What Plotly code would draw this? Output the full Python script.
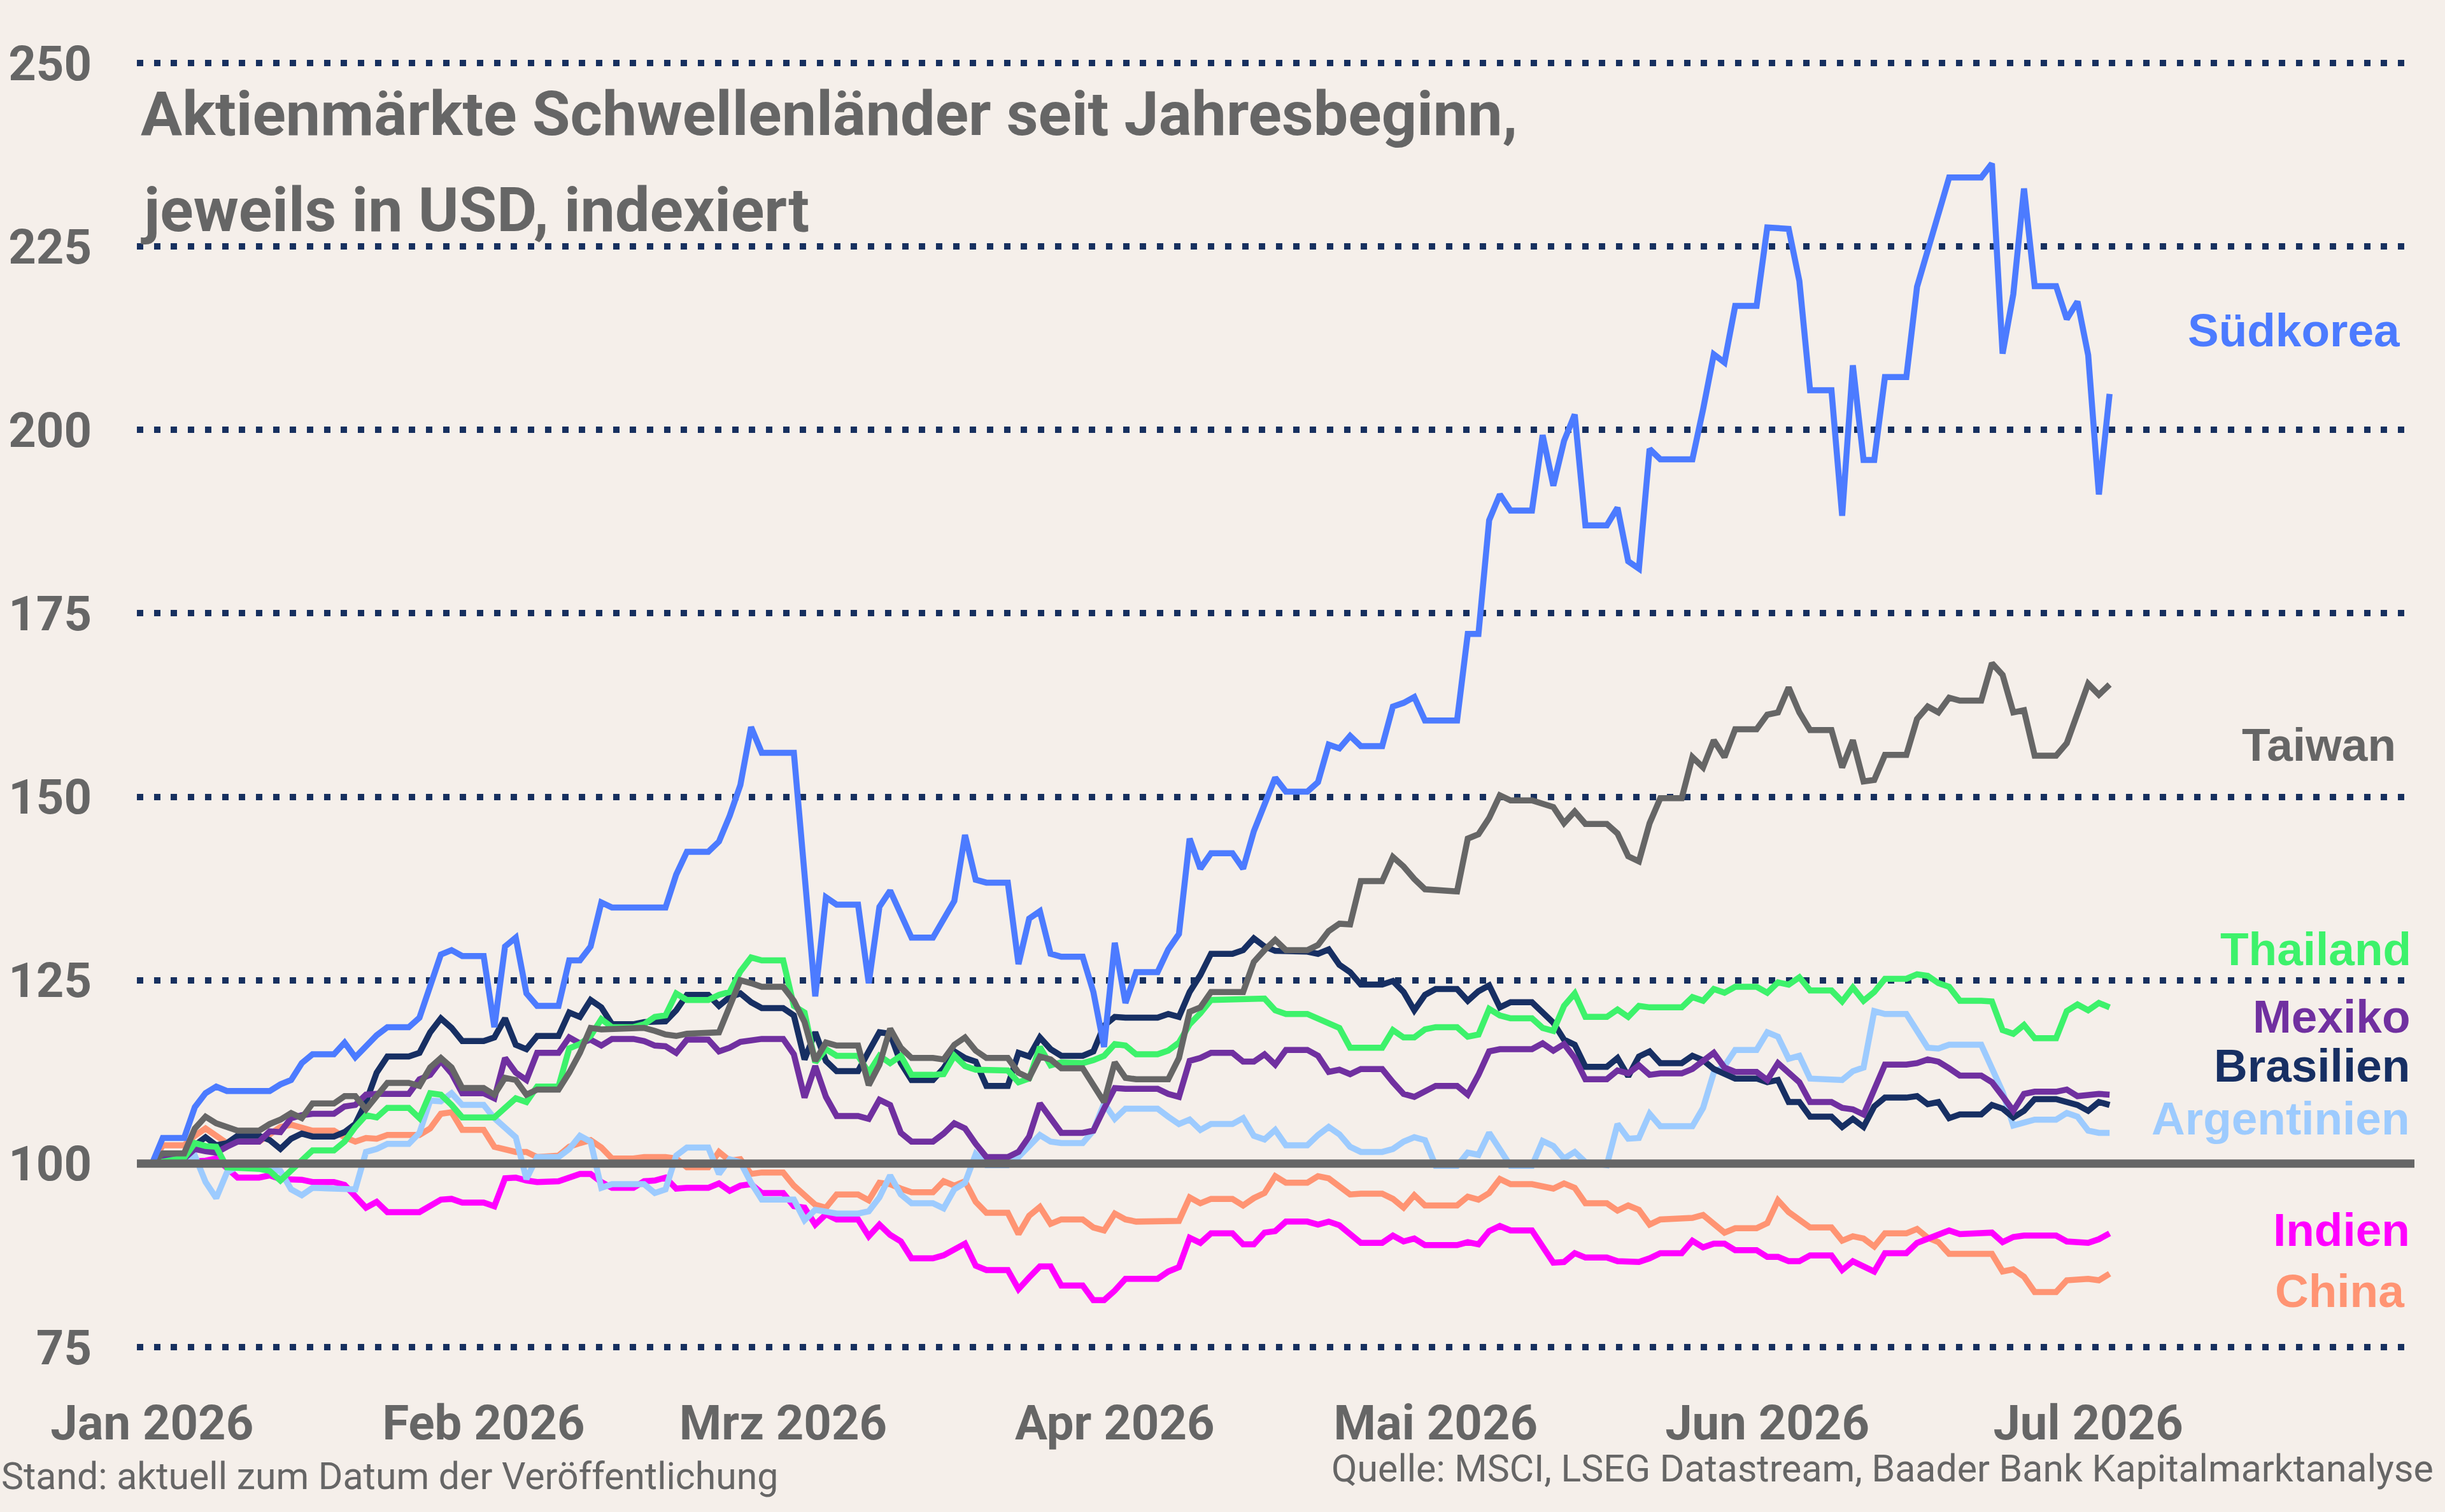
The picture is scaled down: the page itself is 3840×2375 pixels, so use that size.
import plotly.graph_objects as go
import pandas as pd

# ---------------- data (day offset from 1 Jan 2026, index value) ----------------
start_date = "2026-01-01"

korea = [(0,100),(1,103.5),(3,103.5),(4,107.7),(5,109.6),(6,110.5),(7,109.9),(11,109.9),(12,110.8),(13,111.4),(14,113.7),(15,114.9),(17,114.9),(18,116.5),(19,114.5),(21,117.5),(22,118.6),(24,118.6),(25,119.9),(27,128.5),(28,129.1),(29,128.3),(31,128.3),(32,118.6),(33,129.6),(34,130.8),(35,123.2),(36,121.5),(38,121.5),(39,127.7),(40,127.7),(41,129.6),(42,135.6),(43,134.9),(48,134.9),(49,139.4),(50,142.5),(52,142.5),(53,143.9),(54,147.4),(55,151.6),(56,159.5),(57,156.0),(60,156.0),(62,122.8),(63,136.3),(64,135.3),(66,135.3),(67,124.6),(68,135.0),(69,137.2),(71,130.8),(73,130.8),(75,135.8),(76,144.8),(77,138.7),(78,138.3),(80,138.3),(81,127.2),(82,133.4),(83,134.4),(84,128.6),(85,128.2),(87,128.2),(88,123.4),(89,115.9),(90,130.1),(91,121.9),(92,126.1),(94,126.1),(95,129.2),(96,131.3),(97,144.3),(98,140.2),(99,142.3),(101,142.3),(102,140.2),(103,145.3),(105,152.6),(106,150.7),(108,150.7),(109,152.0),(110,157.1),(111,156.6),(112,158.3),(113,156.9),(115,156.9),(116,162.3),(117,162.8),(118,163.6),(119,160.4),(122,160.4),(123,172.2),(124,172.2),(125,187.7),(126,191.2),(127,189.0),(129,189.0),(130,199.3),(131,192.4),(132,198.5),(133,202.1),(134,187.0),(136,187.0),(137,189.4),(138,182.1),(139,181.1),(140,197.4),(141,196.0),(144,196.0),(145,202.8),(146,210.3),(147,209.2),(148,216.9),(150,216.9),(151,227.6),(153,227.4),(154,220.3),(155,205.4),(157,205.4),(158,188.3),(159,208.8),(160,195.9),(161,195.9),(162,207.2),(164,207.2),(165,219.5),(166,224.5),(167,229.2),(168,234.4),(171,234.4),(172,236.3),(173,210.4),(174,218.5),(175,232.9),(176,219.6),(178,219.6),(179,215.1),(180,217.5),(181,210.2),(182,191.2),(183,204.9)]

taiwan = [(0,100),(1,101.4),(3,101.4),(4,104.8),(5,106.4),(6,105.5),(8,104.5),(10,104.5),(11,105.4),(12,106.0),(13,106.9),(14,106.2),(15,108.2),(17,108.2),(18,109.2),(19,109.2),(20,107.4),(21,109.2),(22,111.0),(24,111.0),(25,110.6),(26,113.1),(27,114.4),(28,113.1),(29,110.3),(31,110.3),(32,109.4),(33,111.7),(34,111.4),(35,109.4),(36,110.1),(38,110.1),(39,112.4),(40,115.1),(41,118.5),(42,118.3),(45,118.3),(46,118.5),(47,118.1),(48,117.6),(49,117.4),(50,117.7),(53,117.9),(54,121.5),(55,125.0),(56,124.6),(57,124.1),(59,124.1),(60,122.2),(61,119.3),(62,114.0),(63,116.5),(64,116.1),(66,116.1),(67,110.7),(68,113.5),(69,118.4),(70,115.8),(71,114.4),(73,114.4),(74,114.2),(75,116.2),(76,117.2),(77,115.4),(78,114.4),(80,114.4),(81,112.4),(82,111.7),(83,114.6),(84,114.2),(85,113.0),(87,113.0),(88,110.6),(89,108.4),(90,113.8),(91,111.7),(92,111.5),(95,111.5),(96,114.4),(97,120.7),(98,121.3),(99,123.4),(102,123.4),(103,127.5),(104,129.1),(105,130.5),(106,129.1),(108,129.1),(109,129.8),(110,131.7),(111,132.7),(112,132.6),(113,138.5),(115,138.5),(116,141.8),(117,140.5),(118,138.8),(119,137.4),(122,137.1),(123,144.3),(124,144.9),(125,147.1),(126,150.2),(127,149.5),(129,149.5),(131,148.6),(132,146.4),(133,148.0),(134,146.3),(136,146.3),(137,145.0),(138,141.9),(139,141.2),(140,146.4),(141,149.8),(143,149.8),(144,155.4),(145,154.0),(146,157.7),(147,155.4),(148,159.2),(150,159.2),(151,161.2),(152,161.5),(153,164.9),(154,161.5),(155,159.1),(157,159.1),(158,154.0),(159,157.7),(160,152.1),(161,152.3),(162,155.7),(164,155.7),(165,160.6),(166,162.3),(167,161.5),(168,163.5),(169,163.1),(171,163.1),(172,168.2),(173,166.6),(174,161.5),(175,161.8),(176,155.6),(178,155.6),(179,157.3),(180,161.5),(181,165.4),(182,163.9),(183,165.3)]

thailand = [(0,100),(1,100.3),(3,100.8),(4,102.8),(5,102.4),(6,102.3),(7,99.5),(10,99.3),(11,99.0),(12,97.7),(13,99.0),(14,100.5),(15,101.8),(17,101.8),(18,103.0),(19,105.0),(20,106.6),(21,106.3),(22,107.6),(24,107.6),(25,106.2),(26,109.6),(27,109.4),(28,108.0),(29,106.3),(32,106.3),(33,107.6),(34,108.9),(35,108.4),(36,110.5),(38,110.5),(39,115.7),(40,116.3),(41,117.4),(42,119.7),(43,118.6),(45,118.6),(46,119.0),(47,120.0),(48,120.2),(49,123.2),(50,122.3),(52,122.3),(53,123.0),(54,123.4),(55,126.2),(56,128.1),(57,127.7),(59,127.7),(60,121.5),(61,120.6),(62,113.8),(63,115.6),(64,114.7),(66,114.7),(67,112.4),(68,114.7),(69,113.7),(70,114.7),(71,112.1),(73,112.1),(74,112.2),(75,114.7),(76,113.3),(77,112.8),(78,112.7),(80,112.7),(81,111.1),(82,111.6),(83,115.9),(84,113.4),(85,113.8),(87,113.7),(88,114.1),(89,114.7),(90,116.3),(91,116.1),(92,114.9),(94,114.9),(95,115.4),(96,116.5),(97,119.0),(98,120.5),(99,122.3),(102,122.3),(103,122.5),(104,122.5),(105,120.9),(106,120.4),(108,120.4),(109,119.8),(110,119.0),(111,118.5),(112,115.8),(115,115.8),(116,118.2),(117,117.2),(118,117.2),(119,118.3),(120,118.6),(122,118.6),(123,117.3),(124,117.6),(125,121.1),(126,120.2),(127,119.8),(129,119.8),(130,118.5),(131,118.1),(132,121.5),(133,123.2),(134,120.0),(136,120.0),(137,121.0),(138,120.0),(139,121.5),(140,121.3),(143,121.3),(144,122.7),(145,122.2),(146,123.8),(147,123.3),(148,124.1),(150,124.1),(151,123.3),(152,124.7),(153,124.4),(154,125.4),(155,123.6),(157,123.6),(158,122.1),(159,124.0),(160,122.2),(161,123.4),(162,125.2),(164,125.2),(165,125.8),(166,125.6),(167,124.6),(168,124.1),(169,122.2),(171,122.2),(172,122.1),(173,118.2),(174,117.7),(175,118.9),(176,117.1),(178,117.1),(179,120.8),(180,121.7),(181,120.9),(182,121.9),(183,121.3)]

mexiko = [(0,100),(1,100.7),(3,100.7),(4,102.0),(5,101.7),(6,101.5),(7,102.3),(8,103.0),(10,103.0),(11,104.4),(12,104.3),(13,106.2),(14,106.6),(15,106.8),(17,106.8),(18,107.8),(19,108.0),(20,109.4),(21,109.5),(24,109.5),(25,111.5),(26,112.1),(27,114.0),(28,112.3),(29,109.6),(31,109.6),(32,108.9),(33,114.4),(34,112.4),(35,111.4),(36,115.1),(38,115.1),(39,117.2),(40,116.4),(41,116.9),(42,116.1),(43,117.0),(45,117.0),(46,116.7),(47,116.1),(48,116.0),(49,115.1),(50,116.9),(52,116.9),(53,115.3),(54,115.8),(55,116.6),(56,116.9),(57,117.0),(59,117.0),(60,114.9),(61,109.0),(62,113.3),(63,109.1),(64,106.5),(66,106.5),(67,106.1),(68,108.7),(69,108.0),(70,104.2),(71,103.0),(73,103.0),(74,104.1),(75,105.5),(76,104.8),(77,102.7),(78,100.9),(80,100.9),(81,101.6),(82,103.7),(83,108.2),(84,106.2),(85,104.2),(87,104.2),(88,104.5),(89,107.5),(90,110.3),(91,110.2),(94,110.2),(95,109.5),(96,109.1),(97,114.0),(98,114.4),(99,115.1),(101,115.1),(102,113.9),(103,113.9),(104,114.9),(105,113.5),(106,115.5),(108,115.5),(109,114.7),(110,112.5),(111,112.8),(112,112.2),(113,112.9),(115,112.9),(116,111.1),(117,109.5),(118,109.1),(119,109.8),(120,110.6),(122,110.6),(123,109.4),(124,112.1),(125,115.3),(126,115.6),(129,115.6),(130,116.4),(131,115.4),(132,116.3),(133,114.4),(134,111.5),(136,111.5),(137,112.7),(138,112.3),(139,113.4),(140,112.1),(141,112.3),(143,112.3),(144,112.9),(145,114.0),(146,115.1),(147,113.1),(148,112.5),(150,112.5),(151,111.4),(152,113.7),(153,112.4),(154,111.1),(155,108.4),(157,108.4),(158,107.6),(159,107.4),(160,106.7),(161,110.1),(162,113.5),(164,113.5),(165,113.7),(166,114.2),(167,113.9),(168,113.0),(169,112.0),(171,112.0),(172,111.1),(173,109.2),(174,107.2),(175,109.5),(176,109.8),(178,109.8),(179,110.1),(180,109.2),(181,109.4),(182,109.5),(183,109.4)]

brasilien = [(0,100),(1,100.5),(3,101.0),(4,102.5),(5,103.6),(6,102.5),(7,102.8),(8,103.8),(10,103.8),(11,103.2),(12,102.0),(13,103.4),(14,104.1),(15,103.7),(17,103.7),(18,104.3),(19,105.4),(20,108.4),(21,112.4),(22,114.6),(24,114.6),(25,115.1),(26,117.9),(27,119.8),(28,118.5),(29,116.7),(31,116.7),(32,117.2),(33,119.8),(34,116.2),(35,115.6),(36,117.4),(38,117.4),(39,120.6),(40,120.0),(41,122.3),(42,121.3),(43,119.0),(45,119.0),(46,119.3),(48,119.4),(49,120.9),(50,123.0),(52,123.0),(53,121.5),(54,122.7),(55,123.2),(56,122.0),(57,121.2),(59,121.2),(60,120.2),(61,114.2),(62,117.9),(63,114.0),(64,112.6),(66,112.6),(67,115.3),(68,117.9),(69,117.7),(70,113.7),(71,111.4),(73,111.4),(74,113.0),(75,115.3),(76,114.4),(77,113.9),(78,110.6),(80,110.6),(81,115.1),(82,114.6),(83,117.2),(84,115.6),(85,114.7),(87,114.7),(88,115.3),(89,118.8),(90,120.0),(91,119.9),(94,119.9),(95,120.4),(96,120.0),(97,123.4),(98,125.7),(99,128.6),(101,128.6),(102,129.1),(103,130.7),(104,129.6),(105,129.0),(108,128.9),(109,128.6),(110,129.2),(111,127.1),(112,126.1),(113,124.4),(115,124.4),(116,124.9),(117,123.4),(118,120.9),(119,123.0),(120,123.8),(122,123.8),(123,122.2),(124,123.5),(125,124.3),(126,121.3),(127,122.0),(129,122.0),(130,120.6),(131,119.2),(132,116.9),(133,116.2),(134,113.2),(136,113.2),(137,114.4),(138,111.9),(139,114.6),(140,115.3),(141,113.7),(143,113.7),(144,114.7),(145,114.1),(146,112.9),(147,112.3),(148,111.6),(150,111.6),(151,111.1),(152,111.4),(153,108.4),(154,108.4),(155,106.4),(157,106.4),(158,105.0),(159,106.1),(160,105.0),(161,107.8),(162,109.0),(164,109.0),(165,109.2),(166,108.1),(167,108.4),(168,106.2),(169,106.7),(171,106.7),(172,108.0),(173,107.5),(174,106.3),(175,107.2),(176,108.8),(178,108.8),(179,108.4),(180,108.0),(181,107.2),(182,108.4),(183,108.0)]

argentinien = [(0,100),(3,100.2),(4,101.1),(5,97.5),(6,95.3),(7,98.8),(8,99.6),(12,99.0),(13,96.5),(14,95.7),(15,96.7),(19,96.5),(20,101.6),(21,102.0),(22,102.7),(24,102.7),(25,104.2),(26,108.6),(27,108.5),(28,109.6),(29,108.0),(31,108.0),(32,106.2),(33,104.8),(34,103.6),(35,97.9),(36,100.9),(38,100.9),(39,102.0),(40,103.8),(41,103.0),(42,96.7),(43,97.2),(46,97.2),(47,96.0),(48,96.5),(49,101.1),(50,102.2),(52,102.2),(53,98.6),(54,100.6),(55,100.2),(56,97.4),(57,95.1),(60,95.1),(61,92.3),(62,93.7),(64,93.2),(66,93.2),(67,93.5),(68,95.4),(69,98.4),(70,95.8),(71,94.6),(73,94.6),(74,93.9),(75,96.5),(76,97.4),(77,101.3),(78,99.8),(80,99.8),(81,100.9),(82,102.3),(83,103.9),(84,103.0),(85,102.8),(87,102.8),(88,104.5),(89,108.2),(90,106.1),(91,107.5),(94,107.5),(95,106.4),(96,105.4),(97,106.0),(98,104.6),(99,105.4),(101,105.4),(102,106.2),(103,103.8),(104,103.3),(105,104.6),(106,102.5),(108,102.5),(109,103.9),(110,105.0),(111,104.0),(112,102.3),(113,101.6),(115,101.6),(116,102.0),(117,103.0),(118,103.6),(119,103.2),(120,99.7),(122,99.7),(123,101.5),(124,101.2),(125,104.2),(126,101.9),(127,99.7),(129,99.7),(130,103.1),(131,102.4),(132,100.7),(133,101.6),(134,100.2),(136,99.8),(137,105.4),(138,103.4),(139,103.5),(140,106.8),(141,105.1),(144,105.1),(145,107.6),(146,112.4),(147,113.3),(148,115.5),(150,115.5),(151,117.9),(152,117.3),(153,114.3),(154,114.7),(155,111.6),(158,111.4),(159,112.6),(160,113.1),(161,120.8),(162,120.4),(164,120.4),(165,118.1),(166,115.8),(167,115.7),(168,116.2),(171,116.2),(172,113.0),(173,109.8),(174,105.2),(175,105.6),(176,106.0),(178,106.0),(179,106.9),(180,106.4),(181,104.5),(182,104.2),(183,104.2)]

indien = [(0,100),(5,100.4),(6,100.7),(7,99.5),(8,98.1),(10,98.1),(11,98.4),(12,97.9),(14,97.8),(15,97.5),(17,97.5),(18,97.1),(19,95.6),(20,94.0),(21,94.8),(22,93.4),(25,93.4),(26,94.2),(27,95.1),(28,95.2),(29,94.7),(31,94.7),(32,94.2),(33,98.0),(34,98.1),(35,97.7),(36,97.5),(38,97.6),(39,98.2),(40,98.6),(41,98.6),(42,97.5),(43,96.7),(45,96.7),(46,97.6),(47,97.7),(48,98.1),(49,96.6),(50,96.7),(52,96.7),(53,97.3),(54,96.3),(55,97.0),(56,97.2),(57,96.0),(59,96.0),(60,94.2),(61,94.0),(62,91.7),(63,93.1),(64,92.4),(66,92.4),(67,90.1),(68,91.7),(69,90.3),(70,89.4),(71,87.1),(73,87.1),(74,87.5),(75,88.4),(76,89.1),(77,86.1),(78,85.5),(80,85.5),(81,82.9),(82,84.5),(83,86.0),(84,86.0),(85,83.4),(87,83.4),(88,81.4),(89,81.4),(90,82.7),(91,84.3),(94,84.3),(95,85.3),(96,85.9),(97,89.9),(98,89.2),(99,90.5),(101,90.5),(102,89.0),(103,89.0),(104,90.6),(105,90.8),(106,92.1),(108,92.1),(109,91.7),(110,92.1),(111,91.6),(112,90.4),(113,89.2),(115,89.2),(116,90.2),(117,89.4),(118,89.8),(119,88.9),(122,88.9),(123,89.3),(124,89.0),(125,90.8),(126,91.5),(127,90.9),(129,90.9),(130,88.7),(131,86.5),(132,86.6),(133,87.8),(134,87.2),(136,87.2),(137,86.7),(139,86.6),(140,87.1),(141,87.8),(143,87.8),(144,89.5),(145,88.6),(146,89.1),(147,89.1),(148,88.2),(150,88.2),(151,87.3),(152,87.3),(153,86.7),(154,86.7),(155,87.5),(157,87.5),(158,85.5),(159,86.7),(160,86.1),(161,85.3),(162,87.8),(164,87.8),(165,89.2),(166,89.7),(168,90.9),(169,90.4),(172,90.6),(173,89.3),(174,90.0),(175,90.2),(178,90.2),(179,89.4),(180,89.2),(181,89.2),(182,89.7),(183,90.5)]

china = [(0,100),(1,102.5),(3,102.5),(4,103.8),(5,104.8),(6,103.9),(7,102.8),(8,103.0),(10,103.0),(11,104.0),(12,105.0),(13,105.3),(14,105.0),(15,104.5),(17,104.5),(18,103.6),(19,103.0),(20,103.5),(21,103.4),(22,103.9),(25,103.9),(26,104.8),(27,106.8),(28,107.0),(29,104.6),(31,104.6),(32,102.3),(33,102.0),(34,101.6),(35,101.6),(36,100.9),(38,101.1),(39,102.3),(40,102.8),(41,103.2),(42,102.2),(43,100.7),(45,100.7),(46,100.9),(48,100.9),(49,100.7),(50,99.5),(52,99.5),(53,101.6),(54,100.4),(55,100.6),(56,98.6),(57,98.8),(59,98.8),(60,97.0),(61,95.6),(62,94.4),(63,94.0),(64,95.8),(66,95.8),(67,95.0),(68,97.4),(69,97.2),(70,96.6),(71,96.1),(73,96.1),(74,97.6),(75,97.0),(76,97.6),(77,94.8),(78,93.3),(80,93.3),(81,90.4),(82,92.9),(83,94.1),(84,91.8),(85,92.4),(87,92.4),(88,91.3),(89,90.9),(90,93.2),(91,92.4),(92,92.1),(96,92.2),(97,95.4),(98,94.6),(99,95.2),(101,95.2),(102,94.3),(103,95.3),(104,96.0),(105,98.3),(106,97.4),(108,97.4),(109,98.3),(110,98.0),(111,97.0),(112,95.8),(113,95.9),(115,95.9),(116,95.2),(117,94.0),(118,95.7),(119,94.3),(122,94.3),(123,95.5),(124,95.1),(125,96.0),(126,97.9),(127,97.2),(129,97.2),(130,97.0),(131,96.6),(132,97.3),(133,96.7),(134,94.6),(136,94.6),(137,93.6),(138,94.3),(139,93.7),(140,91.7),(141,92.4),(143,92.4),(144,92.6),(145,93.0),(146,91.7),(147,90.6),(148,91.2),(150,91.2),(151,91.9),(152,95.0),(153,93.4),(154,92.4),(155,91.3),(157,91.3),(158,89.5),(159,90.1),(160,89.8),(161,88.7),(162,90.5),(164,90.5),(165,91.1),(166,89.9),(167,89.3),(168,87.7),(172,87.7),(173,85.3),(174,85.6),(175,84.6),(176,82.5),(178,82.5),(179,84.1),(181,84.3),(182,84.1),(183,85.0)]

# drawing order: bottom -> top
series_names = ["China", "Indien", "Argentinien", "Brasilien", "Mexiko", "Thailand", "Taiwan", "Südkorea"]
series_data = [china, indien, argentinien, brasilien, mexiko, thailand, taiwan, korea]
series_colors = ["#FF9473", "#FF00FF", "#9DCBFE", "#172F63", "#7030A0", "#3DF26B", "#666666", "#4C7BFF"]
label_values = [82.7, 91.0, 106.2, 113.4, 120.1, 129.3, 157.1, 213.6]
label_right = [0.9965, 0.9986, 0.9986, 0.9986, 0.9986, 0.9993, 0.9924, 0.9945]  # right edge, fraction of plot width

y_ticks = [75, 100, 125, 150, 175, 200, 225, 250]
x_tick_dates = ["2026-01-01", "2026-02-01", "2026-03-01", "2026-04-01", "2026-05-01", "2026-06-01", "2026-07-01"]
x_tick_labels = ["Jan 2026", "Feb 2026", "Mrz 2026", "Apr 2026", "Mai 2026", "Jun 2026", "Jul 2026"]
baseline = 100

title_lines = ["Aktienmärkte Schwellenländer seit Jahresbeginn,", "jeweils in USD, indexiert"]
note_left = "Stand: aktuell zum Datum der Veröffentlichung"
note_right = "Quelle: MSCI, LSEG Datastream, Baader Bank Kapitalmarktanalyse"

# ---------------- figure ----------------
BG = "#F5EFEA"
GREY = "#666666"
NAVY = "#17305F"
MAIN_FONT = "Roboto"
LABEL_FONT = "Liberation Sans, Arial, sans-serif"

t0 = pd.Timestamp(start_date)
fig = go.Figure()
for name, data, color in zip(series_names, series_data, series_colors):
    days = [p[0] for p in data]
    vals = [p[1] for p in data]
    xs = t0 + pd.to_timedelta(days, unit="D")
    fig.add_trace(go.Scatter(
        x=xs, y=vals, mode="lines", name=name,
        line=dict(color=color, width=9.5),
        showlegend=False, hoverinfo="skip",
    ))

# baseline at 100
fig.add_shape(type="line", xref="paper", x0=0, x1=1, yref="y", y0=baseline, y1=baseline,
              line=dict(color=GREY, width=13), layer="above")

# series labels on the right
for name, color, yv, xr in zip(series_names, series_colors, label_values, label_right):
    fig.add_annotation(text=name, xref="paper", x=xr, xanchor="right",
                       yref="y", y=yv, yanchor="middle", showarrow=False,
                       font=dict(family=LABEL_FONT, size=73, color=color, weight=700))

# title
for line, ypos in zip(title_lines, [0.950, 0.877]):
    fig.add_annotation(text=line, xref="paper", x=0.001, xanchor="left",
                       yref="paper", y=ypos, yanchor="middle", showarrow=False,
                       font=dict(family=MAIN_FONT, size=97, color=GREY, weight=700))

# footer notes
fig.add_annotation(text=note_left, xref="paper", x=-0.0601, xanchor="left",
                   yref="paper", y=-0.0868, yanchor="middle", showarrow=False,
                   font=dict(family=MAIN_FONT, size=59, color=GREY))
fig.add_annotation(text=note_right, xref="paper", x=1.0089, xanchor="right",
                   yref="paper", y=-0.0810, yanchor="middle", showarrow=False,
                   font=dict(family=MAIN_FONT, size=59, color=GREY))

fig.update_layout(
    width=3840, height=2375, autosize=False,
    paper_bgcolor=BG, plot_bgcolor=BG,
    margin=dict(l=215, r=48, t=76, b=236, pad=0),
    xaxis=dict(
        range=[t0 - pd.Timedelta(hours=34), t0 + pd.Timedelta(days=211, hours=12)],
        tickvals=x_tick_dates, ticktext=x_tick_labels,
        showgrid=False, zeroline=False, showline=False, ticks="",
        tickfont=dict(family=MAIN_FONT, size=76, color=GREY, weight=700),
        ticklabelstandoff=45,
    ),
    yaxis=dict(
        range=[73, 252], tickvals=y_ticks,
        showgrid=True, gridcolor=NAVY, gridwidth=10, griddash="10px,16.7px",
        zeroline=False, showline=False, ticks="",
        tickfont=dict(family=MAIN_FONT, size=76, color=GREY, weight=700),
        ticklabelstandoff=70,
    ),
)

fig.write_html("out.html")
